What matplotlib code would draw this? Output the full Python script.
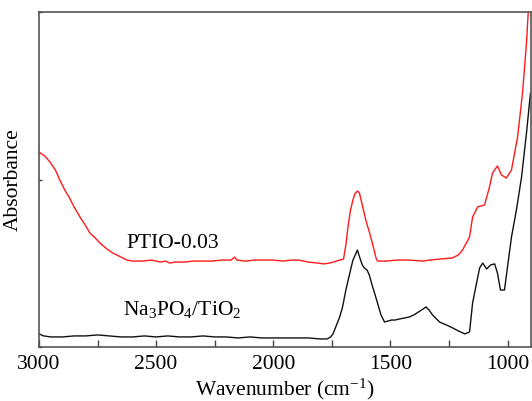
import numpy as np
import matplotlib
matplotlib.use("Agg")
import matplotlib.pyplot as plt
from matplotlib.ticker import MultipleLocator

plt.rcParams['font.family'] = ['Liberation Serif', 'DejaVu Serif']
plt.rcParams['mathtext.fontset'] = 'custom'
plt.rcParams['mathtext.rm'] = 'Liberation Serif'
plt.rcParams['mathtext.it'] = 'Liberation Serif:italic'

# PTIO-0.03 (red)
wn_ptio = [3000, 2975, 2953, 2930, 2911, 2890, 2872, 2850, 2825, 2800, 2783, 2760,
           2740, 2710, 2685, 2650, 2625, 2600, 2560, 2520, 2480, 2460, 2442, 2420,
           2380, 2340, 2300, 2260, 2220, 2180, 2165, 2155, 2120, 2080, 2040, 2000,
           1960, 1920, 1892, 1850, 1810, 1785, 1760, 1730, 1700, 1690, 1680, 1670,
           1660, 1650, 1640, 1632, 1620, 1605, 1590, 1575, 1560, 1555, 1520, 1470,
           1420, 1365, 1330, 1290, 1237, 1210, 1192, 1162, 1149, 1128, 1098, 1077,
           1064, 1043, 1026, 1005, 983, 957, 936, 919, 911, 900]
abs_ptio = [1.164, 1.140, 1.104, 1.057, 0.997, 0.937, 0.896, 0.836, 0.776, 0.722,
            0.681, 0.651, 0.621, 0.585, 0.561, 0.537, 0.519, 0.513, 0.513, 0.519,
            0.507, 0.513, 0.501, 0.507, 0.507, 0.513, 0.513, 0.513, 0.519, 0.519,
            0.537, 0.519, 0.513, 0.519, 0.519, 0.519, 0.513, 0.519, 0.519, 0.507,
            0.501, 0.496, 0.501, 0.513, 0.525, 0.609, 0.728, 0.818, 0.878, 0.919,
            0.931, 0.919, 0.848, 0.758, 0.687, 0.609, 0.525, 0.513, 0.513, 0.519,
            0.519, 0.513, 0.519, 0.525, 0.531, 0.549, 0.579, 0.657, 0.776, 0.836,
            0.848, 0.955, 1.039, 1.081, 1.027, 1.009, 1.057, 1.254, 1.516, 1.815,
            2.012, 2.250]

# Na3PO4/TiO2 (black)
wn_na = [3000, 2980, 2950, 2900, 2850, 2800, 2750, 2700, 2650, 2600, 2550, 2500,
         2450, 2400, 2350, 2300, 2250, 2200, 2150, 2100, 2050, 2000, 1950, 1900,
         1850, 1800, 1770, 1755, 1745, 1730, 1718, 1705, 1690, 1675, 1660, 1650,
         1641, 1630, 1620, 1611, 1600, 1590, 1578, 1565, 1555, 1540, 1525, 1510,
         1495, 1480, 1462, 1440, 1420, 1400, 1380, 1360, 1348, 1335, 1320, 1290,
         1260, 1233, 1210, 1182, 1162, 1149, 1132, 1119, 1106, 1089, 1072, 1055,
         1043, 1030, 1013, 1000, 983, 962, 940, 919, 902]
abs_na = [0.078, 0.066, 0.060, 0.060, 0.066, 0.066, 0.072, 0.066, 0.060, 0.060,
          0.066, 0.060, 0.066, 0.060, 0.060, 0.066, 0.060, 0.060, 0.054, 0.060,
          0.054, 0.054, 0.054, 0.054, 0.054, 0.048, 0.048, 0.060, 0.078, 0.131,
          0.173, 0.233, 0.340, 0.430, 0.519, 0.549, 0.579, 0.531, 0.490, 0.472,
          0.460, 0.430, 0.370, 0.310, 0.263, 0.191, 0.149, 0.155, 0.161, 0.161,
          0.167, 0.173, 0.179, 0.191, 0.209, 0.227, 0.239, 0.221, 0.191, 0.149,
          0.131, 0.113, 0.096, 0.078, 0.090, 0.263, 0.382, 0.472, 0.501, 0.466,
          0.490, 0.496, 0.442, 0.340, 0.340, 0.478, 0.657, 0.818, 1.015, 1.278,
          1.516]

fig = plt.figure(figsize=(5.32, 4.01), dpi=100)
ax = fig.add_axes([0.0733, 0.1347, 0.9247, 0.8353])

ax.plot(wn_ptio, abs_ptio, color='#ff1a1a', lw=1.0)
ax.plot(wn_na, abs_na, color='#111111', lw=1.0)

ax.set_xlim(3000, 900)
ax.set_ylim(0, 2.0)
ax.xaxis.set_major_locator(MultipleLocator(500))
ax.xaxis.set_minor_locator(MultipleLocator(250))
ax.set_yticks([0, 1, 2])
ax.set_yticklabels([])
ax.tick_params(axis='x', which='both', direction='in', length=5, width=1,
               color='#444444', labelsize=15.5, pad=6)
ax.tick_params(axis='y', direction='in', length=2.5, width=1, color='#444444')
for s in ax.spines.values():
    s.set_color('#555555')
    s.set_linewidth(1.2)

ax.set_xlabel('Wavenumber (cm$^{-1}$)', fontsize=15.5, labelpad=2)
ax.set_ylabel('Absorbance', fontsize=15.5, labelpad=8)

ax.text(2625, 0.59, 'PTIO-0.03', fontsize=15.5, va='baseline', ha='left')
ax.text(2642, 0.19, 'Na$_3$PO$_4$/TiO$_2$', fontsize=15.5, va='baseline', ha='left')

fig.savefig('out.png', dpi=100)
